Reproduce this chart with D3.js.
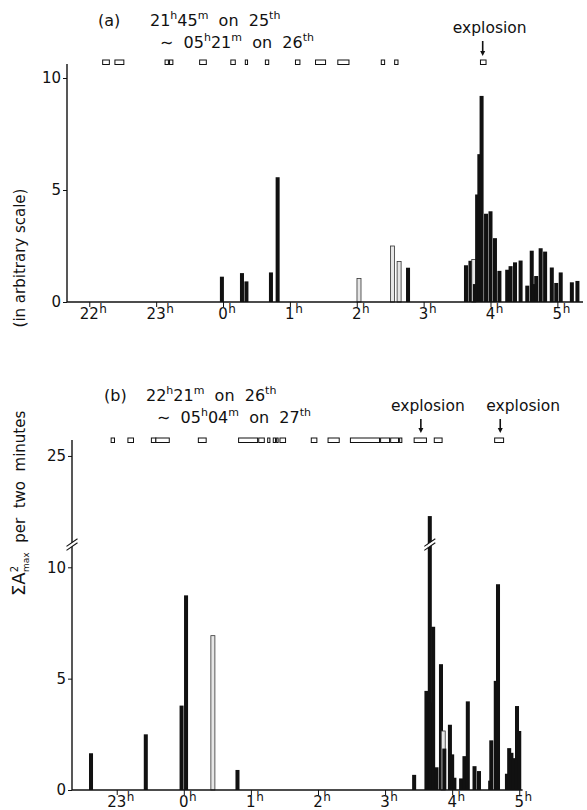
<!DOCTYPE html>
<html><head><meta charset="utf-8">
<script src="https://cdn.jsdelivr.net/npm/d3@7/dist/d3.min.js"></script>
<style>
body{margin:0;background:#fff}
svg{display:block}
text{font-family:"DejaVu Sans",sans-serif;fill:#111;white-space:pre}
</style>
</head><body>
<svg id="chart" width="587" height="810"></svg>
<script>
// ---------- DATA ----------
// Panel (a): 21h45m on 25th ~ 05h21m on 26th
const aBarTimes  = ["23:59","00:17","00:21","00:43","00:49","02:02","02:32","02:38","02:46",
  "03:38","03:42","03:45","03:46","03:48","03:50","03:52","03:56","04:00","04:04","04:08",
  "04:15","04:18","04:22","04:27","04:33","04:37","04:39","04:41","04:45","04:49","04:55",
  "04:59","05:03","05:13","05:18"];
const aBarValues = [1.13,1.29,0.92,1.32,5.57,1.05,2.5,1.81,1.53,
  1.64,1.84,1.9,0.8,4.8,6.6,9.2,3.94,4.05,2.85,1.39,
  1.44,1.6,1.77,1.85,0.73,2.29,0.8,1.16,2.4,2.25,1.54,
  0.85,1.32,0.88,0.94];
const aBarHollow = [false,false,false,false,false,true,true,true,false,
  false,false,true,false,false,false,false,false,false,false,false,
  false,false,false,false,false,false,false,false,false,false,false,
  false,false,false,false];
const aMarkStart = ["22:12","22:23","23:08","23:12","23:39","00:07","00:20","00:38","01:05","01:23","01:43","02:22","02:34","03:51"];
const aMarkEnd   = ["22:18","22:31","23:11","23:15","23:45","00:11","00:22","00:41","01:09","01:32","01:53","02:25","02:37","03:56"];
const aExplosions = ["03:53"];

// Panel (b): 22h21m on 26th ~ 05h04m on 27th
const bBarTimes  = ["22:37","23:26","23:58","00:02","00:26","00:48",
  "03:26","03:37","03:40","03:41","03:43","03:46","03:50","03:52","03:53","03:58","04:00","04:02",
  "04:08","04:11","04:14","04:20","04:24","04:34","04:35","04:39","04:41",
  "04:49","04:51","04:53","04:55","04:58","05:00"];
const bBarValues = [1.65,2.5,3.79,8.74,6.93,0.9,
  0.68,4.45,22.3,3.93,7.33,1.02,5.65,2.65,1.86,2.93,1.6,0.55,
  0.52,1.52,3.98,1.07,0.85,0.42,2.23,4.9,9.24,
  0.73,1.88,1.67,1.43,3.77,2.65];
const bBarHollow = [false,false,false,false,true,false,
  false,false,false,false,false,false,false,true,false,false,false,false,
  false,false,false,false,false,false,false,false,false,
  false,false,false,false,false,false];
const bMarkStart = ["22:55","23:10","23:31","23:35","00:13","00:49","01:07","01:15","01:20","01:23","01:26","01:54","02:09","02:29","02:56","03:05","03:13","03:26","03:44","04:38"];
const bMarkEnd   = ["22:58","23:15","23:35","23:47","00:20","01:06","01:12","01:17","01:22","01:24","01:31","01:59","02:19","02:55","03:04","03:12","03:15","03:37","03:51","04:46"];
const bExplosions = ["03:32","04:43"];

const aHourTicks  = [-2,-1,0,1,2,3,4,5];
const aHourLabels = ["22","23","0","1","2","3","4","5"];
const bHourTicks  = [-1,0,1,2,3,4,5];
const bHourLabels = ["23","0","1","2","3","4","5"];
const aYTicks = [0,5,10];
const bYTicks = [0,5,10,25];
const bBreakLow = 11, bBreakHigh = 21;   // y-axis break (values skipped)

const aTitleLine1 = [["21"],["h",1],["45"],["m",1],["  on  25"],["th",1]];
const aTitleLine2 = [["∼  05"],["h",1],["21"],["m",1],["  on  26"],["th",1]];
const bTitleLine1 = [["22"],["h",1],["21"],["m",1],["  on  26"],["th",1]];
const bTitleLine2 = [["∼  05"],["h",1],["04"],["m",1],["  on  27"],["th",1]];
const explosionLabel = "explosion";

// ---------- HELPERS ----------
const toMin = s => { const [h,m] = s.split(":").map(Number); return (h >= 12 ? h - 24 : h) * 60 + m; };
const svg = d3.select("#chart");
const INK = "#111";

function richText(g, x, y, segs, size, supSize) {
  const t = g.append("text").attr("x", x).attr("y", y).attr("font-size", size).attr("fill", INK);
  let prevSup = false;
  segs.forEach(([s, sup]) => {
    const sp = t.append("tspan").text(s);
    if (sup) { sp.attr("font-size", supSize).attr("dy", prevSup ? 0 : -size * 0.42); }
    else if (prevSup) sp.attr("dy", size * 0.42);
    prevSup = !!sup;
  });
  return t;
}

function panel(cfg) {
  const g = svg.append("g");
  const x = d3.scaleLinear().domain(cfg.xDomain).range(cfg.xRange);
  const y = d3.scaleLinear().domain(cfg.yDomain).range(cfg.yRange);
  const y0 = y(0);
  const half = 1.8; // minutes half-width of bar

  // bars
  const bars = cfg.times.map((t, i) => ({ t: toMin(t), v: cfg.values[i], hollow: cfg.hollow[i] }));
  g.selectAll("rect.bar").data(bars).join("rect").attr("class", "bar")
    .attr("x", d => x(d.t - half)).attr("width", d => x(d.t + half) - x(d.t - half))
    .attr("y", d => y(d.v)).attr("height", d => y0 - y(d.v))
    .attr("fill", d => d.hollow ? "#e6e6e6" : INK)
    .attr("stroke", d => d.hollow ? "#333" : "none")
    .attr("stroke-width", 0.8);

  // x axis
  const xa = g.append("g").attr("transform", `translate(0,${y0})`)
    .call(d3.axisBottom(x).tickValues(cfg.hourTicks.map(h => h * 60)).tickSize(5).tickSizeOuter(0).tickFormat(""));
  xa.select(".domain").remove();
  xa.selectAll("line").attr("stroke", INK).attr("stroke-width", 1);
  g.append("line").attr("x1", cfg.xRange[0]).attr("x2", cfg.xRange[1]).attr("y1", y0).attr("y2", y0)
    .attr("stroke", INK).attr("stroke-width", 1.4);
  cfg.hourTicks.forEach((h, i) => {
    const cx = x(h * 60);
    const num = g.append("text").attr("x", cx).attr("y", y0 + 17).attr("text-anchor", "middle")
      .attr("font-size", 15).attr("fill", INK).text(cfg.hourLabels[i]);
    const w = num.node().getComputedTextLength();
    g.append("text").attr("x", cx + w / 2 + 0.5).attr("y", y0 + 11).attr("font-size", 12)
      .attr("fill", INK).text("h");
  });

  // y axis
  const ya = g.append("g").attr("transform", `translate(${cfg.xRange[0]},0)`)
    .call(d3.axisLeft(y).tickValues(cfg.yTicks).tickSize(4).tickSizeOuter(0).tickPadding(2));
  ya.select(".domain").remove();
  ya.selectAll("line").attr("stroke", INK).attr("stroke-width", 1);
  ya.selectAll("text").attr("font-size", 15).attr("font-family", "DejaVu Sans").attr("fill", INK);
  g.append("line").attr("x1", cfg.xRange[0]).attr("x2", cfg.xRange[0]).attr("y1", y0).attr("y2", cfg.yTop)
    .attr("stroke", INK).attr("stroke-width", 1.4);

  // markers
  const marks = cfg.markStart.map((s, i) => ({ s: toMin(s), e: toMin(cfg.markEnd[i]) }));
  g.selectAll("rect.mark").data(marks).join("rect").attr("class", "mark")
    .attr("x", d => x(d.s)).attr("width", d => Math.max(1.5, x(d.e) - x(d.s)))
    .attr("y", cfg.markY).attr("height", 4.5)
    .attr("fill", "#fff").attr("stroke", INK).attr("stroke-width", 1);

  // explosions
  cfg.explosions.forEach((t, i) => {
    const cx = x(toMin(t));
    g.append("text").attr("x", cx + cfg.explDx[i]).attr("y", cfg.explY).attr("text-anchor", "middle")
      .attr("font-size", 15.5).attr("fill", INK).text(explosionLabel);
    g.append("line").attr("x1", cx).attr("x2", cx).attr("y1", cfg.arrowY1).attr("y2", cfg.arrowY2 - 4)
      .attr("stroke", INK).attr("stroke-width", 1.6);
    g.append("path").attr("d", `M${cx - 2.5},${cfg.arrowY2 - 5}L${cx + 2.5},${cfg.arrowY2 - 5}L${cx},${cfg.arrowY2}Z`)
      .attr("fill", INK);
  });

  return { g, x, y };
}

// ---------- PANEL A ----------
const A = panel({
  xDomain: [-140, 323], xRange: [67, 583],
  yDomain: [0, 10], yRange: [302, 78], yTop: 64,
  times: aBarTimes, values: aBarValues, hollow: aBarHollow,
  hourTicks: aHourTicks, hourLabels: aHourLabels, yTicks: aYTicks,
  markStart: aMarkStart, markEnd: aMarkEnd, markY: 60,
  explosions: aExplosions, explY: 33, explDx: [7], arrowY1: 41, arrowY2: 56
});
richText(A.g, 98, 26, [["(a)"]], 16, 11);
richText(A.g, 150, 26, aTitleLine1, 16, 11);
richText(A.g, 160, 48, aTitleLine2, 16, 11);

// ---------- PANEL B (broken y axis) ----------
const k = 22.27, b0 = 790;
const B = panel({
  xDomain: [-100, 303], xRange: [72, 522.6],
  yDomain: [0, bBreakLow, bBreakHigh, 26],
  yRange: [b0, b0 - bBreakLow * k, b0 - bBreakLow * k, b0 - (bBreakLow + 26 - bBreakHigh) * k],
  yTop: 440,
  times: bBarTimes, values: bBarValues, hollow: bBarHollow,
  hourTicks: bHourTicks, hourLabels: bHourLabels, yTicks: bYTicks,
  markStart: bMarkStart, markEnd: bMarkEnd, markY: 438,
  explosions: bExplosions, explY: 411, explDx: [7, 23], arrowY1: 419, arrowY2: 433
});
richText(B.g, 104, 401, [["(b)"]], 16, 11);
richText(B.g, 146, 401, bTitleLine1, 16, 11);
richText(B.g, 157, 423, bTitleLine2, 16, 11);

// break symbols: on y axis and on the tallest bar
function breakMark(cx, cy, hw) {
  B.g.append("path").attr("d", `M${cx - hw},${cy + 1.5 + hw * 0.7}L${cx + hw},${cy + 1.5 - hw * 0.7}L${cx + hw},${cy - 2.5 - hw * 0.7}L${cx - hw},${cy - 2.5 + hw * 0.7}Z`)
    .attr("fill", "#fff");
  [-2.5, 1.5].forEach(o => {
    B.g.append("line").attr("x1", cx - hw - 3).attr("y1", cy + o + (hw + 3) * 0.7)
      .attr("x2", cx + hw + 3).attr("y2", cy + o - (hw + 3) * 0.7)
      .attr("stroke", INK).attr("stroke-width", 1.1);
  });
}
const yb = B.y(bBreakLow);
breakMark(72, yb, 2.5);
const tallIdx = bBarValues.indexOf(d3.max(bBarValues));
breakMark(B.x(toMin(bBarTimes[tallIdx])), yb, 2.5);

// ---------- Y LABEL ----------
svg.append("text").attr("transform", "translate(25,258) rotate(-90)")
  .attr("text-anchor", "middle").attr("font-size", 15).attr("fill", INK).text("(in arbitrary scale)");
const yl2 = svg.append("text").attr("transform", "translate(25,596) rotate(-90)")
  .attr("text-anchor", "start").attr("font-size", 15).attr("fill", INK);
yl2.append("tspan").attr("font-size", 18).text("ΣA");
yl2.append("tspan").attr("font-size", 10).attr("dy", -7).text("2");
yl2.append("tspan").attr("font-size", 9).attr("dx", -6).attr("dy", 11).text("max");
yl2.append("tspan").attr("dy", -4).text("  per  two  minutes");
</script>
</body></html>
